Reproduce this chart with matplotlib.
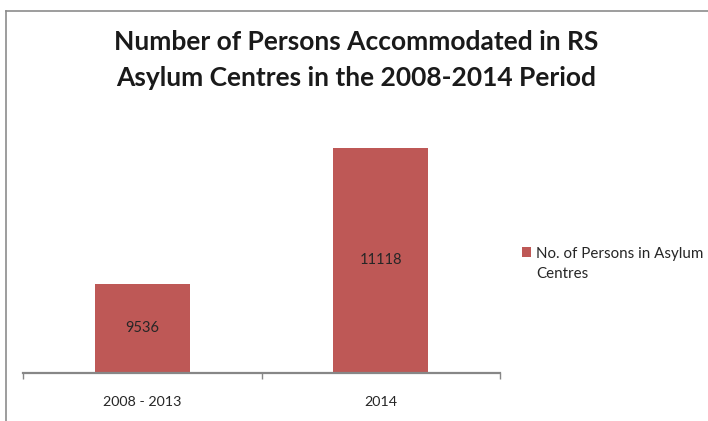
import matplotlib
matplotlib.use("Agg")
import matplotlib.pyplot as plt
from matplotlib.lines import Line2D

# data
categories = ["2008 - 2013", "2014"]
persons = [9536, 11118]
series_name = ["No. of Persons in Asylum", "Centres"]
title = "Number of Persons Accommodated in RS\nAsylum Centres in the 2008-2014 Period"

BAR = "#BE5856"
AXIS = "#878787"
TEXT = "#262626"
FONT = "Lato"

W, H = 708, 421
fig = plt.figure(figsize=(W / 100, H / 100), dpi=100, facecolor="white")
plt.rcParams["font.family"] = [FONT, "DejaVu Sans"]


def px(x0, y0, w, h):
    # pixel box (top-left origin) -> figure fraction
    return [x0 / W, 1 - (y0 + h) / H, w / W, h / H]


# chart frame (clipped at the right and bottom)
fig.add_artist(Line2D([5.5 / W, 5.5 / W], [0, 1 - 10.5 / H], transform=fig.transFigure,
                      color="#8c8c8c", lw=1.2))
fig.add_artist(Line2D([5.5 / W, 1], [1 - 10.5 / H, 1 - 10.5 / H], transform=fig.transFigure,
                      color="#8c8c8c", lw=1.2))

ax = fig.add_axes(px(23, 72.5, 477, 300))
x = range(len(categories))
bars = ax.bar(x, persons, width=0.4, color=BAR, label=series_name[0], zorder=2)
ax.set_xlim(-0.5, len(categories) - 0.5)
ax.set_ylim(8500, 12000)

for b, v in zip(bars, persons):
    ax.text(b.get_x() + b.get_width() / 2, (8500 + v) / 2, f"{v}",
            ha="center", va="center", fontsize=10.5, color=TEXT)

for s in ["left", "top", "right"]:
    ax.spines[s].set_visible(False)
ax.spines["bottom"].set_color(AXIS)
ax.spines["bottom"].set_linewidth(1.6)
ax.set_yticks([])
ax.set_xticks([i - 0.5 for i in range(len(categories) + 1)])
ax.set_xticklabels([])
ax.tick_params(axis="x", which="major", length=4, width=1, color=AXIS, direction="out")
ax.set_xticks(list(x), minor=True)
ax.set_xticklabels(categories, minor=True, fontsize=10.3, color=TEXT)
ax.tick_params(axis="x", which="minor", length=0, pad=17)

fig.text(356 / W, 1 - 60 / H, title, ha="center", va="center", fontsize=19,
         fontweight="bold", color="#1a1a1a", linespacing=1.55)

# legend: first line next to the swatch, wrapped remainder below it
leg = ax.legend(loc="upper left", bbox_to_anchor=(514 / W, 1 - 239 / H),
                bbox_transform=fig.transFigure, frameon=False, fontsize=10.9,
                handlelength=0.65, handleheight=0.65, handletextpad=0.3,
                labelcolor=TEXT, borderpad=0)
fig.canvas.draw()
bb = leg.get_texts()[0].get_window_extent().transformed(fig.transFigure.inverted())
fig.text(bb.x0, bb.y0 - 20 / H, series_name[1], ha="left", va="bottom",
         fontsize=10.9, color=TEXT)

fig.savefig("out.png", dpi=100, facecolor="white")
